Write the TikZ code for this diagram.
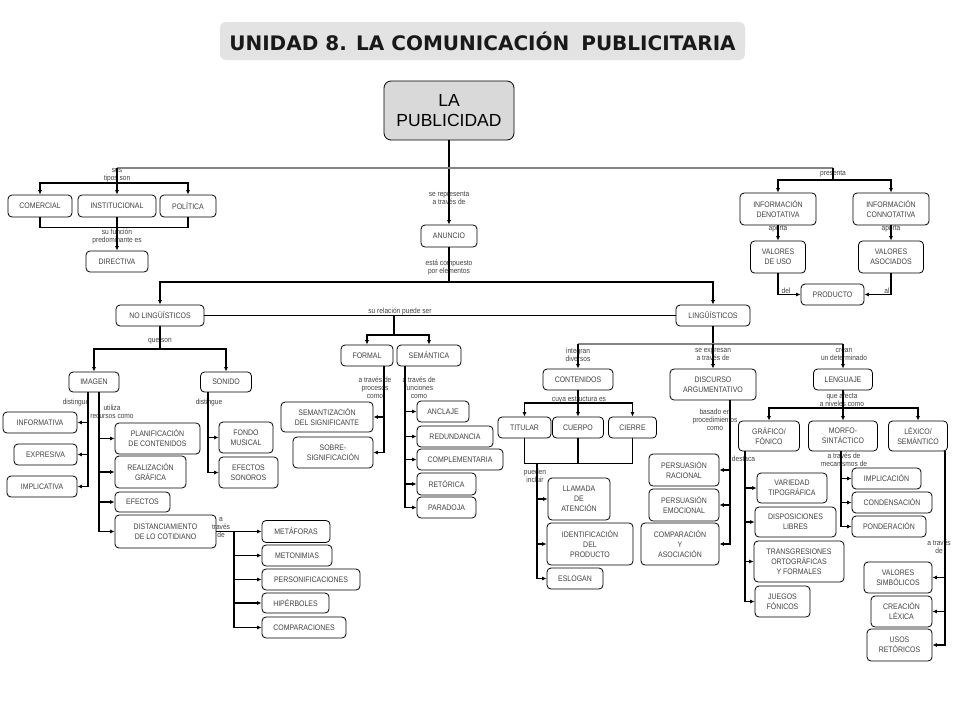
\documentclass[tikz,border=0pt]{standalone}
\usepackage{fontspec}
\setmainfont{Liberation Sans}
\newfontfamily\boxfont{Liberation Sans}[FakeStretch=0.87]
\newfontfamily\titlefont{DejaVu Sans}
\usetikzlibrary{arrows.meta}
\definecolor{boxgray}{HTML}{D9D9D9}
\definecolor{titlegray}{HTML}{E3E3E3}
\definecolor{linegray}{HTML}{858585}
\definecolor{txtgray}{HTML}{404040}
\begin{document}
\begin{tikzpicture}[x=1pt, y=-1pt, line width=1.1pt, >={Latex[length=4.5pt,width=4pt]},
	box/.style = {draw, line width=0.8pt, rounded corners=4pt, align=center, inner sep=1pt, font=\boxfont\fontsize{8}{10}\selectfont, text=txtgray},
	lbl/.style = {align=center, inner sep=0pt, font=\boxfont\fontsize{7.6}{8}\selectfont, text=txtgray},
	wh/.style 2 args = {minimum width=#1pt, minimum height=#2pt}]

	\useasboundingbox (0,0) rectangle (960,720);

	% title and root
	\node[fill=titlegray, rounded corners=6pt, wh={525}{38}, font=\titlefont\bfseries\fontsize{20}{20}\selectfont, text=black!90] (title) at (482.5,41) {UNIDAD 8. LA COMUNICACIÓN\hspace{0.25em} PUBLICITARIA};
	\node[box, fill=boxgray, text=black, rounded corners=7pt, wh={130}{59}, font=\fontsize{17.5}{20.5}\selectfont] (pub) at (449,110.5) {LA\\PUBLICIDAD};

	% tipos
	\node[box, wh={64}{22}] (comercial) at (40,206) {COMERCIAL};
	\node[box, wh={78}{22}] (instit) at (117,206) {INSTITUCIONAL};
	\node[box, wh={56}{22}] (politica) at (188,206) {POLÍTICA};
	\node[box, wh={62}{21}] (directiva) at (117,261.5) {DIRECTIVA};

	% informacion
	\node[box, wh={76}{32}] (infoden) at (778,209) {INFORMACIÓN\\DENOTATIVA};
	\node[box, wh={76}{32}] (infocon) at (891,209) {INFORMACIÓN\\CONNOTATIVA};
	\node[box, wh={55}{32}] (valuso) at (778,257) {VALORES\\DE USO};
	\node[box, wh={65}{32}] (valaso) at (891,257) {VALORES\\ASOCIADOS};
	\node[box, wh={63}{21}] (producto) at (832.5,294.5) {PRODUCTO};

	% anuncio
	\node[box, wh={56}{22}] (anuncio) at (449,236) {ANUNCIO};
	\node[box, wh={88}{21}] (nolin) at (160,315.5) {NO LINGÜÍSTICOS};
	\node[box, wh={74}{21}] (ling) at (713,315.5) {LINGÜÍSTICOS};
	\node[box, wh={52}{21}] (formal) at (367,355.5) {FORMAL};
	\node[box, wh={64}{21}] (semantica) at (429,355.5) {SEMÁNTICA};

	% no linguisticos
	\node[box, wh={50}{20}] (imagen) at (94,382) {IMAGEN};
	\node[box, wh={51}{20}] (sonido) at (226,382) {SONIDO};
	\node[box, wh={74}{21}] (informativa) at (40,422.5) {INFORMATIVA};
	\node[box, wh={63}{21}] (expresiva) at (45.5,454.5) {EXPRESIVA};
	\node[box, wh={70}{21}] (implicativa) at (42,486.5) {IMPLICATIVA};
	\node[box, wh={85}{31}] (planif) at (157.5,438.5) {PLANIFICACIÓN\\DE CONTENIDOS};
	\node[box, wh={71}{32}] (realiz) at (150.5,472) {REALIZACIÓN\\GRÁFICA};
	\node[box, wh={55}{20}] (efectos) at (142.5,502) {EFECTOS};
	\node[box, wh={101}{33}] (distanc) at (165.5,531.5) {DISTANCIAMIENTO\\DE LO COTIDIANO};
	\node[box, wh={54}{31}] (fondo) at (246,437.5) {FONDO\\MUSICAL};
	\node[box, wh={59}{31}] (efson) at (248.5,472.5) {EFECTOS\\SONOROS};
	\node[box, wh={68}{22}] (metaforas) at (296,531.5) {METÁFORAS};
	\node[box, wh={70}{21}] (metonimias) at (297,555.5) {METONIMIAS};
	\node[box, wh={98}{21}] (personif) at (311,579.5) {PERSONIFICACIONES};
	\node[box, wh={67}{20}] (hiperboles) at (295.5,603) {HIPÉRBOLES};
	\node[box, wh={84}{21}] (comparac) at (304,627.5) {COMPARACIONES};

	% formal / semantica
	\node[box, wh={92}{30}] (semantiz) at (327,417) {SEMANTIZACIÓN\\DEL SIGNIFICANTE};
	\node[box, wh={80}{31}] (sobre) at (333,452.5) {SOBRE-\\SIGNIFICACIÓN};
	\node[box, wh={52}{21}] (anclaje) at (443,411.5) {ANCLAJE};
	\node[box, wh={76}{21}] (redund) at (455,436.5) {REDUNDANCIA};
	\node[box, wh={86}{21}] (complem) at (460,459.5) {COMPLEMENTARIA};
	\node[box, wh={59}{22}] (retorica) at (446.5,484) {RETÓRICA};
	\node[box, wh={59}{21}] (paradoja) at (446.5,507.5) {PARADOJA};

	% linguisticos
	\node[box, wh={70}{21}] (contenidos) at (578,379.5) {CONTENIDOS};
	\node[box, wh={86}{31}] (discurso) at (713,384.5) {DISCURSO\\ARGUMENTATIVO};
	\node[box, wh={59}{21}] (lenguaje) at (843,379.5) {LENGUAJE};
	\node[box, wh={53}{21}] (titular) at (524.5,427.5) {TITULAR};
	\node[box, wh={51}{21}] (cuerpo) at (578,427.5) {CUERPO};
	\node[box, wh={48}{21}] (cierre) at (632.5,427.5) {CIERRE};
	\node[box, wh={62}{42}] (llamada) at (579,499) {LLAMADA\\DE\\ATENCIÓN};
	\node[box, wh={86}{42}] (identif) at (590,544) {IDENTIFICACIÓN\\DEL\\PRODUCTO};
	\node[box, wh={56}{21}] (eslogan) at (575,578.5) {ESLOGAN};
	\node[box, wh={70}{32}] (persrac) at (684,470) {PERSUASIÓN\\RACIONAL};
	\node[box, wh={70}{32}] (persemo) at (684,505) {PERSUASIÓN\\EMOCIONAL};
	\node[box, wh={78}{42}] (compasoc) at (680,544) {COMPARACIÓN\\Y\\ASOCIACIÓN};

	% lenguaje
	\node[box, wh={61}{30}] (grafico) at (769,436) {GRÁFICO/\\FÓNICO};
	\node[box, wh={69}{30}] (morfo) at (843,436) {MORFO-\\SINTÁCTICO};
	\node[box, wh={59}{30}] (lexico) at (918,436) {LÉXICO/\\SEMÁNTICO};
	\node[box, wh={70}{30}] (variedad) at (792,488) {VARIEDAD\\TIPOGRÁFICA};
	\node[box, wh={81}{30}] (disposic) at (795.5,522) {DISPOSICIONES\\LIBRES};
	\node[box, wh={90}{41}] (transgr) at (799,561.5) {TRANSGRESIONES\\ORTOGRÁFICAS\\Y FORMALES};
	\node[box, wh={55}{31}] (juegos) at (782.5,601.5) {JUEGOS\\FÓNICOS};
	\node[box, wh={69}{21}] (implic) at (886.5,478.5) {IMPLICACIÓN};
	\node[box, wh={80}{21}] (condens) at (892,502.5) {CONDENSACIÓN};
	\node[box, wh={74}{21}] (ponder) at (889,526.5) {PONDERACIÓN};
	\node[box, wh={68}{31}] (valsimb) at (898,577.5) {VALORES\\SIMBÓLICOS};
	\node[box, wh={61}{31}] (creacion) at (901.5,611.5) {CREACIÓN\\LÉXICA};
	\node[box, wh={65}{32}] (usos) at (899.5,645) {USOS\\RETÓRICOS};

	% labels
	\node[lbl] (l1) at (117,175.5) {sus\\tipos son};
	\node[lbl] (l2) at (117,236.5) {su función\\predominante es};
	\node[lbl] (l3) at (449,198.5) {se representa\\a través de};
	\node[lbl] (l4) at (449,267.5) {está compuesto\\por elementos};
	\node[lbl] (l5) at (833,174) {presenta};
	\node[lbl] (l6) at (778,229) {aporta};
	\node[lbl] (l7) at (891,229) {aporta};
	\node[lbl] (l8) at (786,290.5) {del};
	\node[lbl] (l9) at (887,290.5) {al};
	\node[lbl] (l10) at (400,311) {su relación puede ser};
	\node[lbl] (l11) at (160,341) {que son};
	\node[lbl] (l12) at (76,403) {distingue};
	\node[lbl] (l13) at (112,412) {utiliza\\recursos como};
	\node[lbl] (l14) at (209,403) {distingue};
	\node[lbl] (l15) at (221,527) {a\\través\\de};
	\node[lbl] (l16) at (375,388) {a través de\\procesos\\como};
	\node[lbl] (l17) at (419,388) {a través de\\funciones\\como};
	\node[lbl] (l18) at (578,354.5) {integran\\diversos};
	\node[lbl] (l19) at (713,354.5) {se expresan\\a través de};
	\node[lbl] (l20) at (844,354.5) {crean\\un determinado};
	\node[lbl] (l21) at (579,400) {cuya estructura es};
	\node[lbl] (l22) at (535,476) {pueden\\incluir};
	\node[lbl] (l23) at (715,420) {basado en\\procedimientos\\como};
	\node[lbl] (l24) at (842,400) {que afecta\\a niveles como};
	\node[lbl] (l25) at (743.5,459) {destaca};
	\node[lbl] (l26) at (844,460) {a través de\\mecanismos de};
	\node[lbl] (l27) at (939,547) {a través\\de};

	% junction points
	\coordinate (ta) at (117,168);
	\coordinate (tb) at (833,168);
	\coordinate (tj) at (117,183);
	\coordinate (tc) at (833,180);
	\coordinate (ea) at (449,282);
	\coordinate (ra) at (394,315.5);
	\coordinate (rb) at (394,335);
	\coordinate (qa) at (160,349);
	\coordinate (ia) at (88,392);
	\coordinate (ib) at (99,392);
	\coordinate (sa) at (208,392);
	\coordinate (da) at (234,531.5);
	\coordinate (fa) at (384,366);
	\coordinate (sb) at (405,366);
	\coordinate (la) at (713,344);
	\coordinate (lb) at (578,344);
	\coordinate (lc) at (843,344);
	\coordinate (ca) at (578,403);
	\coordinate (cb) at (578,463);
	\coordinate (cc) at (537,463);
	\coordinate (dsa) at (730,400);
	\coordinate (lga) at (843,408);
	\coordinate (ga) at (745,451);
	\coordinate (ma) at (841,451);
	\coordinate (xa) at (945,451);

	% connectors
	\draw[->] (pub) -- (anuncio);
	\draw[linegray, line width=1.6pt] (ta) -- (tb);
	\draw[->] (ta) -- (instit);
	\draw[->] (tj) -| (comercial);
	\draw[->] (tj) -| (politica);
	\draw (comercial.south) -- ++(0,10) -| (politica.south);
	\draw[->] (instit) -- (directiva);
	\draw (tb) -- (tc);
	\draw[->] (tc) -| (infoden);
	\draw[->] (tc) -| (infocon);
	\draw[->] (infoden) -- (valuso);
	\draw[->] (infocon) -- (valaso);
	\draw[->] (valuso) |- (producto);
	\draw[->] (valaso) |- (producto);

	\draw (anuncio) -- (ea);
	\draw[->] (ea) -| (nolin);
	\draw[->] (ea) -| (ling);
	\draw (nolin) -- (ling);
	\draw (ra) -- (rb);
	\draw[->] (rb) -| (formal);
	\draw[->] (rb) -| (semantica);

	\draw (nolin) -- (qa);
	\draw[->] (qa) -| (imagen);
	\draw[->] (qa) -| (sonido);
	\foreach \n in {informativa, expresiva, implicativa}
		\draw[->] (ia) |- (\n);
	\foreach \n in {planif, realiz, efectos, distanc}
		\draw[->] (ib) |- (\n);
	\foreach \n in {fondo, efson}
		\draw[->] (sa) |- (\n);
	\draw[->] (distanc) -- (metaforas);
	\foreach \n in {metonimias, personif, hiperboles, comparac}
		\draw[->] (da) |- (\n);
	\foreach \n in {semantiz, sobre}
		\draw[->] (fa) |- (\n);
	\foreach \n in {anclaje, redund, complem, retorica, paradoja}
		\draw[->] (sb) |- (\n);

	\draw (ling) -- (la);
	\draw[linegray, line width=1.6pt] (lb) -- (lc);
	\draw[->] (lb) -- (contenidos);
	\draw[->] (la) -- (discurso);
	\draw[->] (lc) -- (lenguaje);
	\draw[->] (contenidos) -- (cuerpo);
	\draw[->] (ca) -| (titular);
	\draw[->] (ca) -| (cierre);
	\draw (titular.south) -- ++(0,25) -| (cierre.south);
	\draw (cuerpo) -- (cb);
	\foreach \n in {llamada, identif, eslogan}
		\draw[->] (cc) |- (\n);
	\foreach \n in {persrac, persemo, compasoc}
		\draw[->] (dsa) |- (\n);

	\draw (lenguaje) -- (lga);
	\draw[->] (lga) -| (grafico);
	\draw[->] (lga) -- (morfo);
	\draw[->] (lga) -| (lexico);
	\foreach \n in {variedad, disposic, transgr, juegos}
		\draw[->] (ga) |- (\n);
	\foreach \n in {implic, condens, ponder}
		\draw[->] (ma) |- (\n);
	\foreach \n in {valsimb, creacion, usos}
		\draw[->] (xa) |- (\n);
\end{tikzpicture}
\end{document}
